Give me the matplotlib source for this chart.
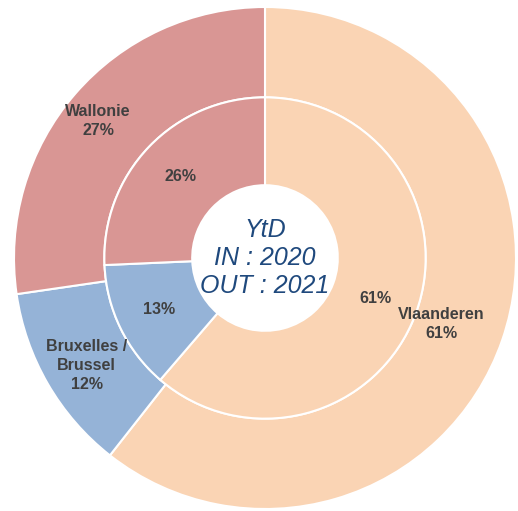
import numpy as np
import matplotlib
matplotlib.use('Agg')
import matplotlib.pyplot as plt

plt.rcParams['font.family'] = ['Liberation Sans', 'DejaVu Sans']

regions = ['Vlaanderen', 'Bruxelles /\nBrussel', 'Wallonie']
out_2021 = [60.6, 12.1, 27.3]
in_2020 = [61.3, 13.0, 25.7]
colors = ['#FAD4B4', '#95B3D7', '#D99694']
center_text = 'YtD\nIN : 2020\nOUT : 2021'

fig = plt.figure(figsize=(5.18, 5.11), dpi=100)
R = 251.0
ax = fig.add_axes([0, 0, 1, 1])

txt = dict(color='#404040', fontsize=11.5, fontweight='bold', ha='center', va='center')

# outer ring (OUT 2021)
wedges, labels = ax.pie(out_2021, radius=1.0, colors=colors, startangle=90, counterclock=False,
                        labels=[f'{r}\n{v:.0f}%' for r, v in zip(regions, out_2021)],
                        labeldistance=0.82, textprops=txt,
                        wedgeprops=dict(width=0.36, edgecolor='white', linewidth=1.5))
label_r = [0.75, 0.83, 0.86]
label_da = [-1.5, 1.0, 1.5]
for w, t, r, da in zip(wedges, labels, label_r, label_da):
    a = np.deg2rad((w.theta1 + w.theta2) / 2 + da)
    t.set_position((r * np.cos(a), r * np.sin(a)))
    t.set_ha('center')
    t.set_linespacing(1.3)

# inner ring (IN 2020)
ax.pie(in_2020, radius=0.64, colors=colors, startangle=90, counterclock=False,
       autopct='%.0f%%', pctdistance=0.73, textprops=txt,
       wedgeprops=dict(width=0.35, edgecolor='white', linewidth=1.5))

ax.set_xlim(-265 / R, (518 - 265) / R)
ax.set_ylim(-(511 - 258) / R, 258 / R)
ax.set_aspect('equal')
ax.axis('off')

ax.text(0, 0, center_text, ha='center', va='center', fontsize=18, style='italic',
        color='#1F497D', linespacing=1.22)

fig.savefig('out.png', dpi=100)
